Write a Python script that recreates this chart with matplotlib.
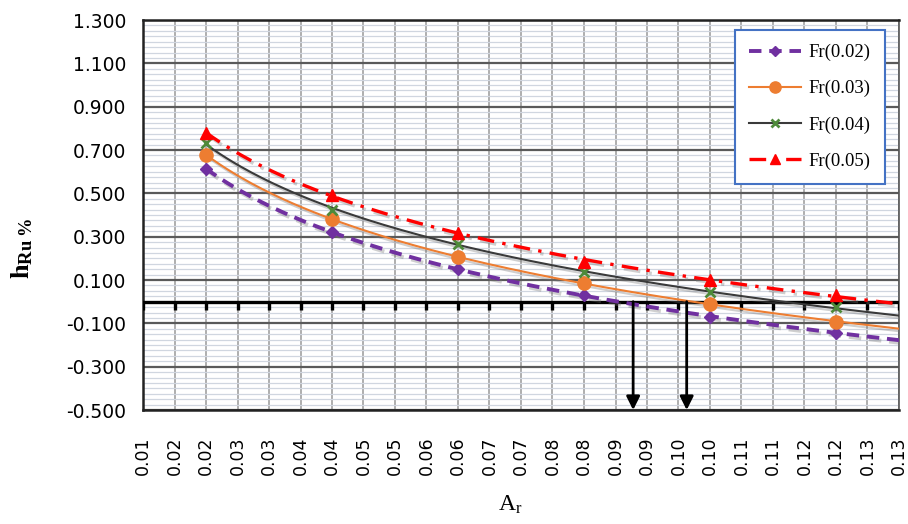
import numpy as np
import matplotlib
matplotlib.use('Agg')
import matplotlib.pyplot as plt
from matplotlib.ticker import MultipleLocator, FixedLocator
from matplotlib.lines import Line2D
import matplotlib.patheffects as pe

# ---------------- data ----------------
ar = [0.02, 0.04, 0.06, 0.08, 0.10, 0.12]
fr002 = [0.612, 0.322, 0.151, 0.031, -0.070, -0.145]
fr003 = [0.677, 0.382, 0.206, 0.086, -0.010, -0.094]
fr004 = [0.732, 0.423, 0.266, 0.137, 0.045, -0.025]
fr005 = [0.780, 0.492, 0.317, 0.183, 0.100, 0.031]
series_labels = ['Fr(0.02)', 'Fr(0.03)', 'Fr(0.04)', 'Fr(0.05)']

x_tick_vals = [0.010, 0.015, 0.020, 0.025, 0.030, 0.035, 0.040, 0.045, 0.050,
               0.055, 0.060, 0.065, 0.070, 0.075, 0.080, 0.085, 0.090, 0.095,
               0.100, 0.105, 0.110, 0.115, 0.120, 0.125, 0.130]
x_tick_labels = ['0.01', '0.02', '0.02', '0.03', '0.03', '0.04', '0.04', '0.05',
                 '0.05', '0.06', '0.06', '0.07', '0.07', '0.08', '0.08', '0.09',
                 '0.09', '0.10', '0.10', '0.11', '0.11', '0.12', '0.12', '0.13',
                 '0.13']
y_tick_vals = [-0.5, -0.3, -0.1, 0.1, 0.3, 0.5, 0.7, 0.9, 1.1, 1.3]
y_tick_labels = ['-0.500', '-0.300', '-0.100', '0.100', '0.300', '0.500',
                 '0.700', '0.900', '1.100', '1.300']
trend_end = 0.13
arrow_x = [0.0878, 0.0963]

# ---------------- style ----------------
plt.rcParams['mathtext.fontset'] = 'custom'
plt.rcParams['mathtext.rm'] = 'Liberation Serif'
plt.rcParams['mathtext.bf'] = 'Liberation Serif:bold'
plt.rcParams['mathtext.it'] = 'Liberation Serif:italic'

fig = plt.figure(figsize=(9.08, 5.24), dpi=100)
ax = fig.add_axes([143 / 908, 1 - 410 / 524, (899 - 143) / 908, 390 / 524])

ax.set_xlim(0.01, 0.13)
ax.set_ylim(-0.5, 1.3)

ax.xaxis.set_major_locator(FixedLocator(x_tick_vals))
ax.set_xticklabels(x_tick_labels, rotation=90, fontsize=12.5,
                   family='DejaVu Sans')
ax.yaxis.set_major_locator(FixedLocator(y_tick_vals))
ax.set_yticklabels(y_tick_labels, fontsize=13.5, family='DejaVu Sans')
ax.yaxis.set_minor_locator(MultipleLocator(0.025))
ax.tick_params(axis='x', which='both', length=0, pad=19)
ax.tick_params(axis='y', which='both', length=0, pad=12)

ax.set_axisbelow(True)
ax.grid(which='minor', axis='y', color='#D0D6E0', lw=0.9)
ax.grid(which='major', axis='y', color='#5A5A5A', lw=1.6)
ax.grid(which='major', axis='x', color='#A8A8A8', lw=1.3)

for s in ['left', 'bottom', 'top']:
    ax.spines[s].set_color('#222222')
    ax.spines[s].set_linewidth(1.8)
ax.spines['right'].set_color('#555555')
ax.spines['right'].set_linewidth(1.2)

# axis line at y = 0 with tick marks pointing down
ax.axhline(0, color='black', lw=2.4, zorder=2.6)
ax.vlines(x_tick_vals, -0.04, 0, color='black', lw=2.4, zorder=2.6)

# ---------------- series ----------------
shadow = [pe.SimpleLineShadow(offset=(1.5, -2), shadow_color='#777777', alpha=0.35),
          pe.Normal()]
specs = [
    (fr002, '#7030A0', (0, (3.2, 2.0)), 2.8, 'D', 6.5, '#7030A0'),
    (fr003, '#ED7D31', '-', 1.5, 'o', 9.5, '#ED7D31'),
    (fr004, '#3A3A3A', '-', 1.5, 'x', 7.5, '#4E8A3A'),
    (fr005, '#FF0000', (0, (5, 2.5, 1, 2.5)), 2.4, '^', 9, '#FF0000'),
]
xs = np.linspace(min(ar), trend_end, 200)
handles = []
for (vals, col, ls, lw, mk, ms, mcol), lab in zip(specs, series_labels):
    b, a = np.polyfit(np.log(ar), vals, 1)
    ax.plot(xs, a + b * np.log(xs), color=col, ls=ls, lw=lw, zorder=3,
            path_effects=shadow)
    ax.plot(ar, vals, ls='none', marker=mk, ms=ms, color=mcol,
            markeredgewidth=2 if mk == 'x' else 1, zorder=4)
    handles.append(Line2D([], [], color=col, ls=ls, lw=lw, marker=mk,
                          ms=ms * 0.85,
                          markerfacecolor=mcol, markeredgecolor=mcol,
                          markeredgewidth=2 if mk == 'x' else 1))

# arrows
for xa in arrow_x:
    ax.annotate('', xy=(xa, -0.5), xytext=(xa, 0.0),
                arrowprops=dict(arrowstyle='-|>', color='black', lw=2,
                                mutation_scale=20, shrinkA=0, shrinkB=0),
                zorder=5)

leg = ax.legend(handles, series_labels, loc='upper right',
                bbox_to_anchor=((885 - 143) / 756, (410 - 30) / 390),
                prop={'family': 'Liberation Serif', 'size': 13.5},
                frameon=True, fancybox=False, framealpha=1,
                edgecolor='#4472C4', labelspacing=1.0, borderpad=0.75,
                handlelength=2.8, handletextpad=0.4, borderaxespad=0)
leg.get_frame().set_linewidth(1.5)

fig.text(22 / 908, 1 - 248 / 524, r'$\mathbf{h_{Ru\ \%}}$', rotation=90,
         fontsize=19, ha='center', va='center')
fig.text(510 / 908, 1 - 505 / 524, r'A$_\mathrm{r}$', fontsize=17,
         family='Liberation Serif', ha='center', va='center')

fig.savefig('out.png', dpi=100, facecolor='white')
